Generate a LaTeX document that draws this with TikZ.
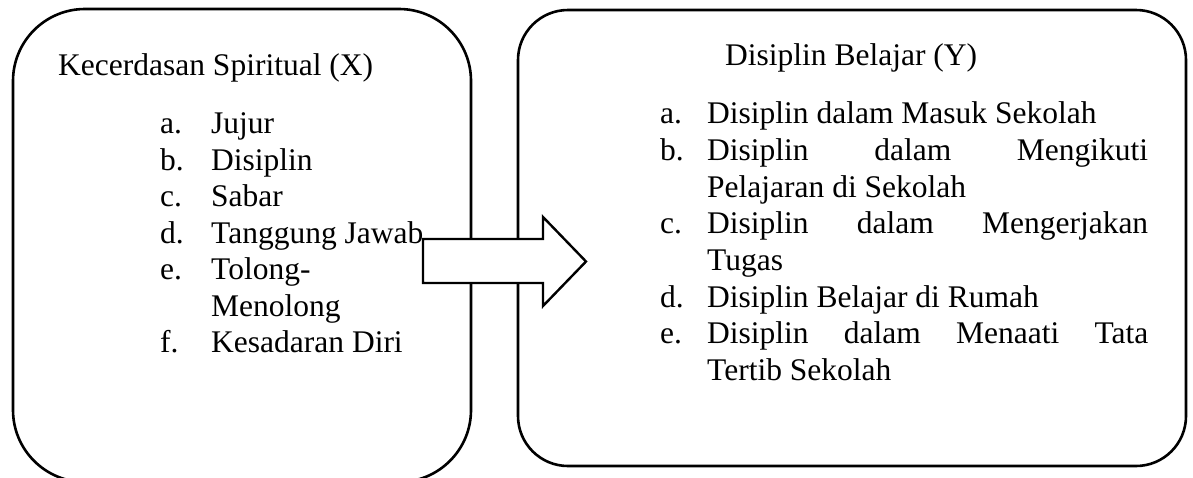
\documentclass[tikz,border=0pt]{standalone}
\usepackage{fontspec}
\setmainfont{Liberation Serif}
\begin{document}
\begin{tikzpicture}[x=1pt,y=1pt,
  box/.style={draw, line width=2.6pt, inner sep=0pt},
  txt/.style={anchor=base west, inner sep=0pt, font=\fontsize{31.5}{36.5}\selectfont},
  bigarrow/.style={draw, fill=white, line width=2.4pt}]
\useasboundingbox (0,0) rectangle (1193,-477);
\clip (0,0) rectangle (1193,-477);
% boxes
\node[box, rounded corners=72pt, minimum width=458pt, minimum height=473pt] (lbox) at (242,-245.5) {};
\node[box, rounded corners=50pt, minimum width=668pt, minimum height=456pt] (rbox) at (852,-238) {};
% left text
\node[txt] (ltitle) at (58,-75) {Kecerdasan Spiritual (X)};
\node[txt] (la) at (160,-133) {a.};
\node[txt] (lat) at (211,-133) {Jujur};
\node[txt] (lb) at (160,-170) {b.};
\node[txt] (lbt) at (211,-170) {Disiplin};
\node[txt] (lc) at (160,-206) {c.};
\node[txt] (lct) at (211,-206) {Sabar};
\node[txt] (ld) at (160,-243) {d.};
\node[txt] (ldt) at (211,-243) {Tanggung Jawab};
\node[txt] (le) at (160,-279) {e.};
\node[txt] (let) at (211,-279) {Tolong-};
\node[txt] (let2) at (211,-316) {Menolong};
\node[txt] (lf) at (160,-352) {f.};
\node[txt] (lft) at (211,-352) {Kesadaran Diri};
% right text
\node[txt] (rtitle) at (725,-65) {Disiplin Belajar (Y)};
\node[txt] (ra) at (660,-123) {a.};
\node[txt] (rat) at (707,-123) {Disiplin dalam Masuk Sekolah};
\node[txt] (rb) at (660,-160) {b.};
\node[txt] (rbt) at (707,-160) {\makebox[441pt][s]{Disiplin dalam Mengikuti}};
\node[txt] (rbt2) at (707,-197) {Pelajaran di Sekolah};
\node[txt] (rc) at (660,-233) {c.};
\node[txt] (rct) at (707,-233) {\makebox[441pt][s]{Disiplin dalam Mengerjakan}};
\node[txt] (rct2) at (707,-270) {Tugas};
\node[txt] (rd) at (660,-307) {d.};
\node[txt] (rdt) at (707,-307) {Disiplin Belajar di Rumah};
\node[txt] (re) at (660,-343) {e.};
\node[txt] (ret) at (707,-343) {\makebox[441pt][s]{Disiplin dalam Menaati Tata}};
\node[txt] (ret2) at (707,-380) {Tertib Sekolah};
% block arrow
\draw[bigarrow] (423,-239) -- (543,-239) -- (543,-217) -- (586,-261.5) -- (543,-306) -- (543,-283) -- (423,-283) -- cycle;
\end{tikzpicture}
\end{document}
